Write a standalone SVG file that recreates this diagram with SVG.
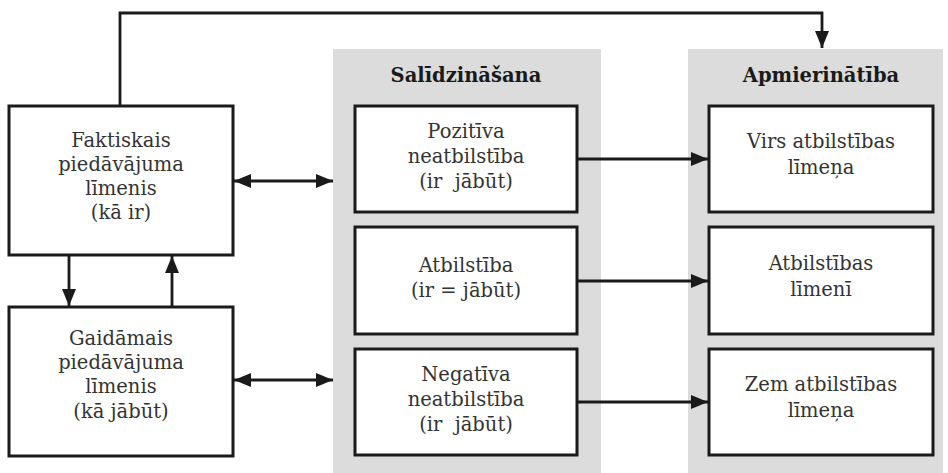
<svg xmlns="http://www.w3.org/2000/svg" width="948" height="473" viewBox="0 0 948 473">
<style>
.panel{fill:#dcdcdc;stroke:none}
.box{fill:#ffffff;stroke:#1a1a1a;stroke-width:3}
.t{font-family:"DejaVu Serif","Liberation Serif",serif;font-size:19.5px;fill:#333333;text-anchor:middle}
.h{font-family:"DejaVu Serif","Liberation Serif",serif;font-size:19.5px;font-weight:bold;fill:#1a1a1a;text-anchor:middle}
.c{fill:none;stroke:#1a1a1a;stroke-width:2.8}
</style>
<defs>
<marker id="ah" markerUnits="userSpaceOnUse" markerWidth="17" markerHeight="14" refX="17" refY="7" orient="auto-start-reverse">
<path d="M0,0 L17,7 L0,14 z" fill="#1a1a1a"/>
</marker>
</defs>
<rect width="948" height="473" fill="#ffffff"/>
<g id="panel-salidzinasana">
<rect class="panel" x="333" y="49" width="268" height="424"/>
<text class="h" x="466" y="82">Salīdzināšana</text>
</g>
<g id="panel-apmierinatiba">
<rect class="panel" x="688" y="49" width="255" height="424"/>
<text class="h" x="821" y="82">Apmierinātība</text>
</g>
<g id="faktiskais">
<rect class="box" x="9" y="106" width="224" height="149"/>
<text class="t" x="121" y="147">Faktiskais</text>
<text class="t" x="121" y="171">piedāvājuma</text>
<text class="t" x="121" y="195">līmenis</text>
<text class="t" x="121" y="219">(kā ir)</text>
</g>
<g id="gaidamais">
<rect class="box" x="9" y="307" width="224" height="149"/>
<text class="t" x="121" y="345">Gaidāmais</text>
<text class="t" x="121" y="369">piedāvājuma</text>
<text class="t" x="121" y="393">līmenis</text>
<text class="t" x="121" y="418">(kā jābūt)</text>
</g>
<g id="pozitiva">
<rect class="box" x="355" y="106" width="222" height="106"/>
<text class="t" x="466" y="138">Pozitīva</text>
<text class="t" x="466" y="163">neatbilstība</text>
<text class="t" x="466" y="188">(ir&#160; jābūt)</text>
</g>
<g id="atbilstiba">
<rect class="box" x="355" y="227" width="222" height="107"/>
<text class="t" x="466" y="272">Atbilstība</text>
<text class="t" x="466" y="297">(ir = jābūt)</text>
</g>
<g id="negativa">
<rect class="box" x="355" y="349" width="222" height="106"/>
<text class="t" x="466" y="381">Negatīva</text>
<text class="t" x="466" y="406">neatbilstība</text>
<text class="t" x="466" y="431">(ir&#160; jābūt)</text>
</g>
<g id="virs">
<rect class="box" x="709" y="106" width="224" height="106"/>
<text class="t" x="821" y="148">Virs atbilstības</text>
<text class="t" x="821" y="174">līmeņa</text>
</g>
<g id="atbilstibas-limeni">
<rect class="box" x="709" y="227" width="224" height="107"/>
<text class="t" x="821" y="270">Atbilstības</text>
<text class="t" x="821" y="296">līmenī</text>
</g>
<g id="zem">
<rect class="box" x="709" y="349" width="224" height="106"/>
<text class="t" x="821" y="391">Zem atbilstības</text>
<text class="t" x="821" y="417">līmeņa</text>
</g>
<g id="connectors">
<path class="c" d="M120,106 V13 H822 V48" marker-end="url(#ah)"/>
<line class="c" x1="69" y1="255" x2="69" y2="306" marker-end="url(#ah)"/>
<line class="c" x1="172" y1="307" x2="172" y2="256" marker-end="url(#ah)"/>
<line class="c" x1="234" y1="181" x2="333" y2="181" marker-start="url(#ah)" marker-end="url(#ah)"/>
<line class="c" x1="234" y1="380" x2="333" y2="380" marker-start="url(#ah)" marker-end="url(#ah)"/>
<line class="c" x1="577" y1="159" x2="708" y2="159" marker-end="url(#ah)"/>
<line class="c" x1="577" y1="281" x2="708" y2="281" marker-end="url(#ah)"/>
<line class="c" x1="577" y1="402" x2="708" y2="402" marker-end="url(#ah)"/>
</g>
</svg>
